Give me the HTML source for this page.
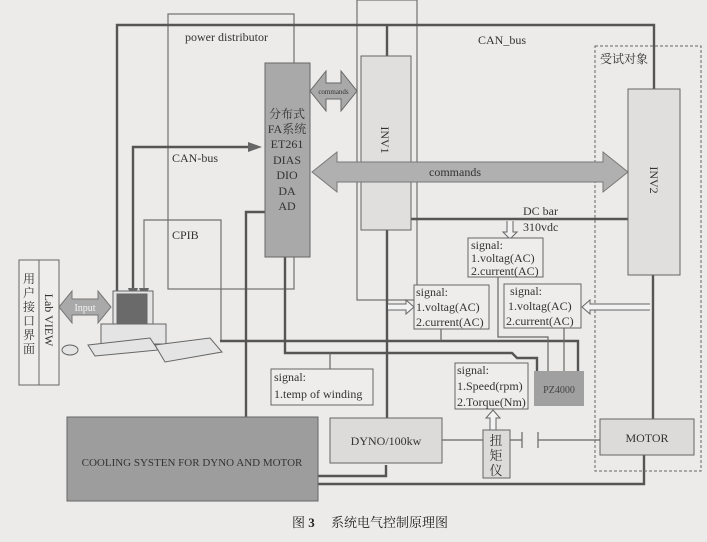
<!DOCTYPE html>
<html><head><meta charset="utf-8"><style>
html,body{margin:0;padding:0;background:#ecebe9;}
svg{display:block;font-family:"Liberation Serif","Noto Serif CJK SC",serif;}
</style></head><body>
<svg width="707" height="542" viewBox="0 0 707 542" xmlns="http://www.w3.org/2000/svg">
<rect width="707" height="542" fill="#ecebe9"/>
<g fill="none" stroke="#707070" stroke-width="1.2">
<!-- power distributor -->
<rect x="168" y="14" width="126" height="275"/>
<!-- INV1 outer -->
<rect x="357" y="0" width="60" height="300"/>
<!-- CPIB -->
<path d="M144 290 V220 H221 V341"/>
</g>
<g fill="none" stroke="#555" stroke-width="2.4">
<path d="M117 295 V25 H654 V89"/>
<path d="M387 25 V56"/>
<path d="M387 230 V418"/>
<path d="M133 290 V147 H250"/>
<path d="M265 212 H246 V417"/>
<path d="M220 341 H578 V371"/>
<path d="M285 250 V353 H512 L517 358 H537 V371"/>
<path d="M411 219 H628"/>
<path d="M653 275 V419"/>
<path d="M318 476 H386 V465"/>
<path d="M318 484 H644 V455"/>
</g>
<g fill="none" stroke="#666" stroke-width="1.2">
<path d="M330 353 V369"/>
<path d="M441 329 V341"/>
<path d="M498 277 V337 H548 V371"/>
<path d="M564 328 V371"/>
<path d="M442 440 H483"/>
<path d="M510 440 H522 M522 432 V448 M538 432 V448 M538 440 H600"/>
</g>
<!-- dashed 受试对象 -->
<rect x="595" y="46" width="106" height="425" fill="none" stroke="#666" stroke-width="1" stroke-dasharray="3,2"/>
<text x="600" y="63" font-size="12" fill="#333">受试对象</text>
<!-- ET261 -->
<rect x="265" y="63" width="45" height="194" fill="#a9a9a9" stroke="#666"/>
<g font-size="12" fill="#333" text-anchor="middle">
<text x="287" y="118">分布式</text><text x="287" y="133">FA系统</text><text x="287" y="148">ET261</text>
<text x="287" y="164">DIAS</text><text x="287" y="179">DIO</text><text x="287" y="195">DA</text><text x="287" y="210">AD</text>
</g>
<!-- small commands arrow -->
<polygon points="310,91 326,71 326,83 341,83 341,71 357,91 341,111 341,99 326,99 326,111" fill="#a9a9a9" stroke="#666"/>
<text x="333.5" y="94" font-size="7" fill="#333" text-anchor="middle">commands</text>
<!-- INV1 -->
<rect x="361" y="56" width="50" height="174" fill="#e0dfdd" stroke="#666"/>
<text transform="translate(381,140) rotate(90)" font-size="12" fill="#333" text-anchor="middle">INV1</text>
<!-- big commands arrow -->
<polygon points="312,172 337,152 337,162 603,162 603,152 628,172 603,192 603,182 337,182 337,192" fill="#b0b0b0" stroke="#777"/>
<text x="455" y="176" font-size="12" fill="#333" text-anchor="middle">commands</text>
<!-- INV2 -->
<rect x="628" y="89" width="52" height="186" fill="#e0dfdd" stroke="#666"/>
<text transform="translate(650,180) rotate(90)" font-size="12" fill="#333" text-anchor="middle">INV2</text>
<!-- labels -->
<g font-size="12" fill="#333">
<text x="185" y="41">power distributor</text>
<text x="478" y="44">CAN_bus</text>
<text x="172" y="162">CAN-bus</text>
<text x="172" y="239">CPIB</text>
<text x="523" y="215">DC bar</text>
<text x="523" y="231">310vdc</text>
</g>
<!-- arrows into ET261 / computer -->
<polygon points="262,147 248,142 248,152" fill="#666"/>
<polygon points="133,302 128,288 138,288" fill="#666"/>
<polygon points="144,302 139,288 149,288" fill="#666"/>
<!-- hollow arrows -->
<path d="M507 221 V232 H503 L510 239 L517 232 H513 V221" fill="#f2f2f2" stroke="#666"/>
<path d="M388 304 H406 V300 L414 307 L406 314 V310 H388" fill="#f2f2f2" stroke="#666"/>
<path d="M650 304 H590 V300 L582 307 L590 314 V310 H650" fill="#f2f2f2" stroke="#666"/>
<path d="M490 430 V418 H486 L493 410 L500 418 H496 V430" fill="#f2f2f2" stroke="#666"/>
<!-- signal boxes -->
<g fill="#eeedeb" stroke="#666">
<rect x="468" y="238" width="75" height="39"/>
<rect x="414" y="285" width="75" height="44"/>
<rect x="504" y="284" width="77" height="44"/>
<rect x="455" y="363" width="73" height="46"/>
<rect x="271" y="369" width="102" height="36"/>
</g>
<g font-size="12" fill="#333">
<text x="471" y="249">signal:</text><text x="471" y="262">1.voltag(AC)</text><text x="471" y="275">2.current(AC)</text>
<text x="416" y="296">signal:</text><text x="416" y="311">1.voltag(AC)</text><text x="416" y="326">2.current(AC)</text>
<text x="510" y="295">signal:</text><text x="508" y="310">1.voltag(AC)</text><text x="506" y="325">2.current(AC)</text>
<text x="457" y="374">signal:</text><text x="457" y="390">1.Speed(rpm)</text><text x="457" y="406">2.Torque(Nm)</text>
<text x="274" y="381">signal:</text><text x="274" y="398">1.temp of winding</text>
</g>
<!-- PZ4000 -->
<rect x="534" y="371" width="50" height="35" fill="#a0a0a0"/>
<text x="559" y="393" font-size="10" fill="#444" text-anchor="middle">PZ4000</text>
<!-- cooling -->
<rect x="67" y="417" width="251" height="84" fill="#9d9d9d" stroke="#666"/>
<text x="192" y="466" font-size="11" fill="#333" text-anchor="middle">COOLING SYSTEN FOR DYNO AND MOTOR</text>
<!-- DYNO -->
<rect x="330" y="418" width="112" height="45" fill="#dcdbd9" stroke="#666"/>
<text x="386" y="445" font-size="12" fill="#333" text-anchor="middle">DYNO/100kw</text>
<!-- torque meter -->
<rect x="483" y="430" width="27" height="48" fill="#dcdbd9" stroke="#666"/>
<g font-size="13" fill="#333" text-anchor="middle"><text x="496" y="445">扭</text><text x="496" y="460">矩</text><text x="496" y="475">仪</text></g>
<!-- MOTOR -->
<rect x="600" y="419" width="94" height="36" fill="#dcdbd9" stroke="#666"/>
<text x="647" y="442" font-size="12" fill="#333" text-anchor="middle">MOTOR</text>
<!-- LabVIEW -->
<rect x="19" y="260" width="40" height="125" fill="#eeedeb" stroke="#666"/>
<line x1="39" y1="260" x2="39" y2="385" stroke="#666"/>
<g font-size="12" fill="#333" text-anchor="middle">
<text x="29" y="283">用</text><text x="29" y="297">户</text><text x="29" y="311">接</text><text x="29" y="325">口</text><text x="29" y="339">界</text><text x="29" y="353">面</text>
</g>
<text transform="translate(45,320) rotate(90)" font-size="12" fill="#333" text-anchor="middle">Lab VIEW</text>
<!-- Input arrow -->
<polygon points="59,307 72,291 72,299 98,299 98,291 111,307 98,323 98,315 72,315 72,323" fill="#a9a9a9" stroke="#777"/>
<text x="85" y="311" font-size="10" fill="#f4f4f4" text-anchor="middle">Input</text>
<!-- computer -->
<g stroke="#666" fill="#e4e4e4">
<rect x="113" y="291" width="40" height="38"/>
<rect x="117" y="294" width="30" height="31" fill="#6a6a6a"/>
<rect x="101" y="324" width="65" height="20"/>
<polygon points="88,345 150,338 158,350 95,356"/>
<polygon points="155,345 210,338 222,352 165,362"/>
<ellipse cx="70" cy="350" rx="8" ry="5"/>
</g>
<!-- caption -->
<text x="292" y="527" font-size="13" fill="#222">图 <tspan font-weight="bold">3</tspan>　 系统电气控制原理图</text>
</svg>
</body></html>
